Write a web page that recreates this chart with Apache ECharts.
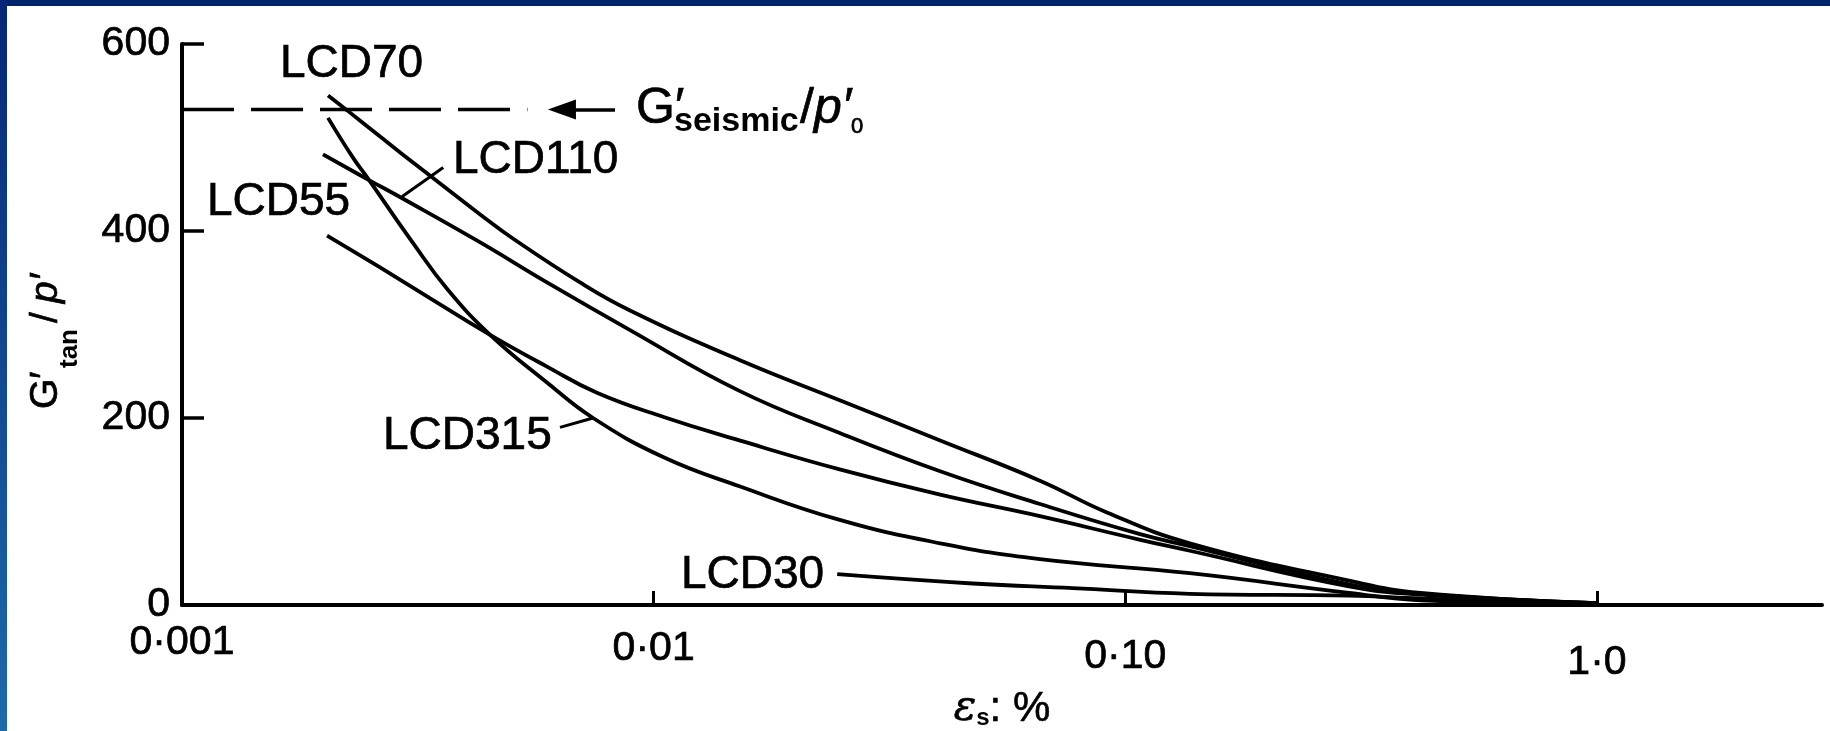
<!DOCTYPE html>
<html>
<head>
<meta charset="utf-8">
<script src="https://cdn.jsdelivr.net/npm/echarts@6/dist/echarts.min.js"></script>
<style>
html,body{margin:0;padding:0;background:#fff;overflow:hidden}
#c{width:1830px;height:731px}
</style>
</head>
<body>
<div id="c"></div>
<script>
// ---------- data ----------
const xTickValues = [0.001, 0.01, 0.1, 1];
const xTickLabels = ['0·001', '0·01', '0·10', '1·0'];
const yTickValues = [0, 200, 400, 600];

const lcd70X  = [0.00204, 0.00224, 0.00263, 0.00328, 0.00428, 0.00503, 0.00698, 0.00891, 0.0152, 0.0248, 0.0405, 0.0659, 0.0914, 0.137, 0.298, 0.423, 1.0];
const lcd70Y  = [545, 529, 501, 463, 418, 392, 345, 315, 262, 219, 176, 133, 99, 66, 26, 13, 2];

const lcd110X = [0.00199, 0.00248, 0.00293, 0.00428, 0.00594, 0.00891, 0.0152, 0.0248, 0.0405, 0.0659, 0.107, 0.137, 0.298, 0.423, 1.0];
const lcd110Y = [482, 455, 435, 388, 345, 294, 229, 184, 143, 108, 76, 63, 22, 12, 2];

const lcd315X = [0.00204, 0.0023, 0.00248, 0.00309, 0.00365, 0.0045, 0.00594, 0.00744, 0.0105, 0.0152, 0.0248, 0.0405, 0.0659, 0.137, 0.298, 0.423, 1.0];
const lcd315Y = [521, 479, 456, 387, 338, 289, 238, 200, 158, 127, 91, 66, 49, 34, 13, 5, 1];

const lcd55X  = [0.00203, 0.00263, 0.00336, 0.0045, 0.00594, 0.00758, 0.0105, 0.0152, 0.0248, 0.0405, 0.0659, 0.107, 0.137, 0.298, 0.423, 1.0];
const lcd55Y  = [395, 361, 328, 289, 255, 227, 201, 176, 145, 118, 95, 70, 58, 20, 11, 2];

const lcd30X  = [0.0245, 0.0475, 0.0774, 0.137, 0.298, 0.423, 1.0];
const lcd30Y  = [33, 23, 18, 12, 10, 7, 1];

const seismicLevel = 530;            // G'seismic / p'0
const seismicX = [0.001, 0.0054];
const arrowX   = [0.00828, 0.00639];

const leader110X = [0.00358, 0.00293];
const leader110Y = [468, 437];
const leader315X = [0.00633, 0.00744];
const leader315Y = [190, 200];

// ---------- chart ----------
const FONT = '"Liberation Sans", Arial, Helvetica, sans-serif';
const pairs = (xs, ys) => xs.map((x, i) => [x, ys[i]]);
const curveStyle = { color: '#000', width: 3.8 };

function curve(name, xs, ys) {
  return {
    name, type: 'line', data: pairs(xs, ys), smooth: 0.45,
    showSymbol: false, symbol: 'none', lineStyle: curveStyle,
    silent: true, z: 3
  };
}
function leader(name, xs, ys) {
  return {
    name, type: 'line', data: pairs(xs, ys), smooth: false,
    showSymbol: false, symbol: 'none', lineStyle: { color: '#000', width: 3 },
    silent: true, z: 3
  };
}

const chart = echarts.init(document.getElementById('c'), null, { renderer: 'canvas' });

const HEAVY = { stroke: '#000', lineWidth: 0.7 };
function txt(text, x, y, size, extra) {
  return {
    type: 'text', x, y, silent: true, z: 10,
    style: Object.assign({ text, fontSize: size, fontFamily: FONT, fill: '#000',
      align: 'left', verticalAlign: 'middle' }, HEAVY, extra || {})
  };
}

// tick-label style per label (the scanned axis drifts slightly downward to the right)
const labelRich = {};
[0, 6, 14, 20].forEach((pad, i) => {
  labelRich['t' + i] = { fontSize: 41, fontFamily: FONT, color: '#000', padding: [pad, 0, 0, 0],
    textBorderColor: '#000', textBorderWidth: 0.7 };
});

const option = {
  backgroundColor: '#ffffff',
  animation: false,
  grid: { left: 182, right: 8, top: 44, bottom: 126, containLabel: false, outerBoundsMode: 'none' },
  xAxis: {
    type: 'log', logBase: 10, min: 0.001, max: 3,
    name: '{e|ε}{s|s}{r|: %}', nameLocation: 'middle', nameGap: 72,
    nameTextStyle: {
      rich: {
        e: { fontSize: 42, fontStyle: 'italic', fontFamily: 'DejaVu Serif, serif', color: '#000', lineHeight: 42, textBorderColor: '#000', textBorderWidth: 0.6 },
        s: { fontSize: 24, fontWeight: 'bold', fontFamily: FONT, color: '#000', lineHeight: 12, verticalAlign: 'bottom' },
        r: { fontSize: 42, fontFamily: FONT, color: '#000', lineHeight: 42, textBorderColor: '#000', textBorderWidth: 0.6 }
      }
    },
    axisLine: { show: true, onZero: false, lineStyle: { color: '#000', width: 4 } },
    axisTick: { show: true, inside: true, length: 14, lineStyle: { color: '#000', width: 3 }, customValues: xTickValues },
    axisLabel: {
      show: true, customValues: xTickValues, fontSize: 41, fontFamily: FONT, color: '#000', margin: 17,
      hideOverlap: false, rich: labelRich,
      formatter: v => {
        const i = Math.round(Math.log10(v)) + 3;
        return (i >= 0 && i < xTickLabels.length && Math.abs(Math.log10(v) - (i - 3)) < 1e-6)
          ? '{t' + i + '|' + xTickLabels[i] + '}' : '';
      }
    },
    splitLine: { show: false }, minorTick: { show: false }, minorSplitLine: { show: false }
  },
  yAxis: {
    type: 'value', min: yTickValues[0], max: yTickValues[yTickValues.length - 1], interval: 200,
    axisLine: { show: true, onZero: false, lineStyle: { color: '#000', width: 4 } },
    axisTick: { show: true, inside: true, length: 22, lineStyle: { color: '#000', width: 3.5 } },
    axisLabel: { show: true, fontSize: 41, fontFamily: FONT, color: '#000', margin: 12, hideOverlap: false,
      textBorderColor: '#000', textBorderWidth: 0.7 },
    splitLine: { show: false }
  },
  series: [
    curve('LCD70', lcd70X, lcd70Y),
    curve('LCD110', lcd110X, lcd110Y),
    curve('LCD315', lcd315X, lcd315Y),
    curve('LCD55', lcd55X, lcd55Y),
    curve('LCD30', lcd30X, lcd30Y),
    leader('LCD110 leader', leader110X, leader110Y),
    leader('LCD315 leader', leader315X, leader315Y),
    {
      name: "G'seismic/p'0", type: 'line',
      data: seismicX.map(x => [x, seismicLevel]),
      showSymbol: false, symbol: 'none', silent: true, z: 2,
      lineStyle: { color: '#000', width: 3.5, type: [52, 17] },
      markLine: {
        silent: true, animation: false,
        symbol: ['none', 'path://M5,0 L10,10 L0,10 Z'],
        symbolSize: [20, 28],
        label: { show: false },
        lineStyle: { color: '#000', width: 3.5, type: 'solid' },
        emphasis: { disabled: true },
        data: [[{ coord: [arrowX[0], seismicLevel] }, { coord: [arrowX[1], seismicLevel] }]]
      }
    }
  ],
  graphic: [
    // slide frame
    { type: 'rect', shape: { x: 0, y: 0, width: 1830, height: 6 }, style: { fill: '#00246c' }, silent: true, z: 20 },
    { type: 'rect', shape: { x: 0, y: 0, width: 7, height: 731 },
      style: { fill: new echarts.graphic.LinearGradient(0, 0, 0, 1, [
        { offset: 0, color: '#062677' }, { offset: 1, color: '#1d6aab' }]) }, silent: true, z: 20 },
    // curve labels
    txt('LCD70', 280, 64, 46),
    txt('LCD110', 453, 160, 46),
    txt('LCD55', 207, 202, 46),
    txt('LCD315', 383, 436, 46),
    txt('LCD30', 681, 575, 46),
    // G'seismic / p'0 annotation
    txt('G′', 636, 109, 50),
    txt('seismic', 674, 122, 34, { fontWeight: 'bold', lineWidth: 0 }),
    txt('/', 800, 109, 50),
    txt('p′', 814, 109, 50, { fontStyle: 'italic' }),
    txt('0', 851, 127, 22),
    // y-axis name, rotated
    {
      type: 'group', x: 58, y: 409, rotation: Math.PI / 2, silent: true, z: 10,
      children: [
        { type: 'text', x: 0, y: -12, style: Object.assign({ text: 'G′', fontSize: 39, fontFamily: FONT, fill: '#000', align: 'left', verticalAlign: 'middle' }, HEAVY) },
        { type: 'text', x: 41, y: 12, style: { text: 'tan', fontSize: 26, fontWeight: 'bold', fontFamily: FONT, fill: '#000', align: 'left', verticalAlign: 'middle' } },
        { type: 'text', x: 86, y: -12, style: Object.assign({ text: '/', fontSize: 39, fontFamily: FONT, fill: '#000', align: 'left', verticalAlign: 'middle' }, HEAVY) },
        { type: 'text', x: 106, y: -12, style: Object.assign({ text: 'p′', fontSize: 39, fontStyle: 'italic', fontFamily: FONT, fill: '#000', align: 'left', verticalAlign: 'middle' }, HEAVY) }
      ]
    }
  ]
};
chart.setOption(option);
</script>
</body>
</html>
